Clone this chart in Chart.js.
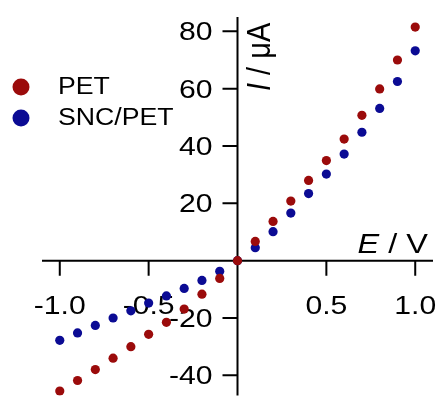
<!DOCTYPE html>
<html lang="en">
<head>
  <meta charset="UTF-8">
  <title>I-E curves</title>
  <script src="https://cdn.jsdelivr.net/npm/chart.js"></script>
  <style>
    body {
      margin: 0;
      padding: 0;
      background-color: #fff;
    }
    canvas {
      display: block;
    }
  </style>
</head>
<body>
  <canvas id="grafica" width="440" height="400"></canvas>

  <script>
    // potential (V)
    var potencial = [-1.0, -0.9, -0.8, -0.7, -0.6, -0.5, -0.4, -0.3, -0.2, -0.1, 0.0,
                     0.1, 0.2, 0.3, 0.4, 0.5, 0.6, 0.7, 0.8, 0.9, 1.0];
    // current (uA)
    var corrientePET = [-45.5, -41.8, -38.0, -34.0, -30.0, -25.7, -21.5, -16.9, -11.7, -6.2, 0.0,
                        6.7, 13.7, 20.8, 28.0, 34.9, 42.4, 50.7, 59.9, 70.0, 81.5];
    var corrienteSNC = [-27.8, -25.2, -22.6, -20.0, -17.5, -14.8, -12.3, -9.7, -6.9, -3.7, 0.0,
                        4.5, 10.1, 16.6, 23.4, 30.2, 37.2, 44.8, 53.1, 62.5, 73.2];
    var etiquetas = ['PET', 'SNC/PET'];
    var xTicks = [-1.0, -0.5, 0.5, 1.0];
    var xTickLabels = ['-1.0', '-0.5', '0.5', '1.0'];
    var yTicks = [80, 60, 40, 20, -20, -40];

    var ROJO = '#9b0b0b';
    var AZUL = '#0b0b94';
    var FUENTE = '"Liberation Sans", Arial, sans-serif';
    var SX = 1.16; // the reference text is stretched sideways

    function puntos(ys) {
      return potencial.map(function (x, i) { return { x: x, y: ys[i] }; });
    }

    function texto(ctx, t, x, y, align, font) {
      ctx.save();
      ctx.translate(x, y);
      ctx.scale(SX, 1);
      ctx.font = font;
      ctx.textAlign = align;
      ctx.textBaseline = 'alphabetic';
      ctx.fillText(t, 0, 0);
      ctx.restore();
    }

    // axes crossing at the origin, drawn under the points
    var ejes = {
      id: 'ejes',
      beforeDatasetsDraw: function (chart) {
        var ctx = chart.ctx;
        var xs = chart.scales.x, ys = chart.scales.y;
        var a = chart.chartArea;
        var x0 = xs.getPixelForValue(0);
        var y0 = ys.getPixelForValue(0);
        ctx.save();
        ctx.strokeStyle = '#000';
        ctx.fillStyle = '#000';
        ctx.lineWidth = 2;
        ctx.beginPath();
        ctx.moveTo(a.left, y0); ctx.lineTo(a.right, y0);
        ctx.moveTo(x0, a.top); ctx.lineTo(x0, a.bottom);
        xTicks.forEach(function (v) {
          var px = xs.getPixelForValue(v);
          ctx.moveTo(px, y0); ctx.lineTo(px, y0 + 15);
        });
        yTicks.forEach(function (v) {
          var py = ys.getPixelForValue(v);
          ctx.moveTo(x0, py); ctx.lineTo(x0 - 15, py);
        });
        ctx.stroke();

        var f = '26px ' + FUENTE;
        xTicks.forEach(function (v, i) {
          texto(ctx, xTickLabels[i], xs.getPixelForValue(v), y0 + 53, 'center', f);
        });
        yTicks.forEach(function (v) {
          texto(ctx, String(v), x0 - 25, ys.getPixelForValue(v) + 9, 'right', f);
        });

        // E / V
        ctx.save();
        ctx.translate(a.right - 5, y0 - 8);
        ctx.scale(SX, 1);
        ctx.font = '28px ' + FUENTE;
        ctx.textAlign = 'right';
        ctx.textBaseline = 'alphabetic';
        ctx.fillText(' / V', 0, 0);
        var w = ctx.measureText(' / V').width;
        ctx.font = 'italic 28px ' + FUENTE;
        ctx.fillText('E', -w, 0);
        ctx.restore();

        // I / uA
        ctx.save();
        ctx.translate(x0 + 32, a.top + 74);
        ctx.scale(SX, 1);
        ctx.rotate(-Math.PI / 2);
        ctx.textAlign = 'left';
        ctx.textBaseline = 'alphabetic';
        ctx.font = 'italic 29px ' + FUENTE;
        ctx.fillText('I', 0, 0);
        var wi = ctx.measureText('I').width;
        ctx.font = '29px ' + FUENTE;
        ctx.fillText(' / \u03bcA', wi, 0);
        ctx.restore();

        // legend
        chart.data.datasets.forEach(function (ds, i) {
          var cy = 87 + i * 31;
          ctx.fillStyle = ds.backgroundColor;
          ctx.beginPath();
          ctx.arc(21, cy, 8.5, 0, Math.PI * 2);
          ctx.fill();
          ctx.fillStyle = '#000';
          texto(ctx, ds.label, 58, cy + 7, 'left', '23px ' + FUENTE);
        });
        ctx.restore();
      }
    };

    var ctx = document.getElementById('grafica').getContext('2d');
    var grafica = new Chart(ctx, {
      type: 'scatter',
      data: {
        datasets: [{
          label: etiquetas[0],
          data: puntos(corrientePET),
          backgroundColor: ROJO,
          borderColor: ROJO,
          borderWidth: 0,
          pointRadius: 4.6
        }, {
          label: etiquetas[1],
          data: puntos(corrienteSNC),
          backgroundColor: AZUL,
          borderColor: AZUL,
          borderWidth: 0,
          pointRadius: 4.6
        }]
      },
      options: {
        responsive: false,
        animation: false,
        layout: { padding: { left: 42, right: 7, top: 17, bottom: 0 } },
        plugins: { legend: { display: false }, tooltip: { enabled: false } },
        scales: {
          x: { type: 'linear', min: -1.1, max: 1.1, display: false },
          y: { type: 'linear', min: -47, max: 85, display: false }
        }
      },
      plugins: [ejes]
    });
  </script>
</body>
</html>
